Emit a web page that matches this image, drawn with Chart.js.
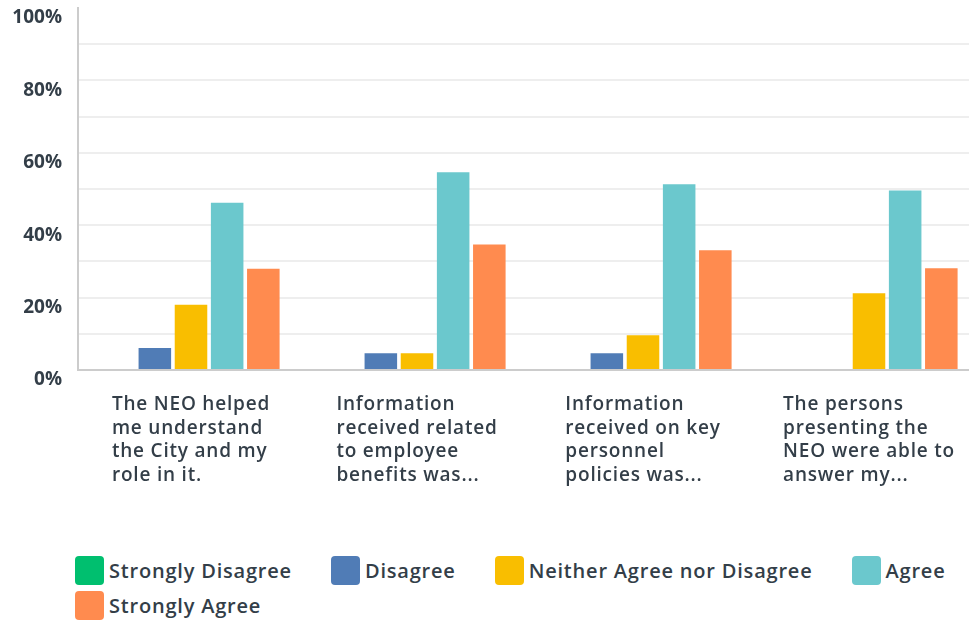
<!DOCTYPE html>
<html>
<head>
<meta charset="utf-8">
<script src="https://cdn.jsdelivr.net/npm/chart.js@4"></script>
<style>
    html, body {
        margin: 0;
        padding: 0;
        overflow: hidden;
        background: #fff;
        width: 969px;
        height: 620px;
    }
    .chart-wrap {
        position: absolute;
        left: 0;
        top: 0;
        width: 982px;
        height: 520px;
    }
    .legend {
        position: absolute;
        left: 75px;
        top: 556px;
        width: 894px;
        display: flex;
        flex-wrap: wrap;
        column-gap: 39px;
        row-gap: 6px;
        font-family: "Open Sans", sans-serif;
        font-weight: 600;
        font-size: 20px;
        letter-spacing: 0.8px;
        color: #333e48;
    }
    .legend-item {
        display: flex;
        align-items: center;
        height: 29px;
    }
    .legend-box {
        width: 29px;
        height: 29px;
        border-radius: 4px;
        margin-right: 5px;
    }
</style>
</head>
<body>
<div class="chart-wrap"><canvas id="myChart" width="982" height="520"></canvas></div>
<div class="legend"></div>

<script>
const categories = [
    ['The NEO helped', 'me understand', 'the City and my', 'role in it.'],
    ['Information', 'received related', 'to employee', 'benefits was...'],
    ['Information', 'received on key', 'personnel', 'policies was...'],
    ['The persons', 'presenting the', 'NEO were able to', 'answer my...']
]

const seriesNames = ['Strongly Disagree', 'Disagree', 'Neither Agree nor Disagree', 'Agree', 'Strongly Agree']
const seriesColors = ['#00bf6f', '#507cb6', '#f9be00', '#6bc8cd', '#ff8b4f']

const stronglyDisagree = [0, 0, 0, 0]
const disagree = [6.1, 4.6, 4.6, 0]
const neither = [18.0, 4.6, 9.6, 21.2]
const agree = [46.2, 54.6, 51.3, 49.6]
const stronglyAgree = [28.0, 34.7, 33.1, 28.1]

const yTicks = [0, 20, 40, 60, 80, 100]

const textColor = '#333e48'
const seriesValues = [stronglyDisagree, disagree, neither, agree, stronglyAgree]

// category labels: left-aligned lines, block centred under each group
const xLabels = {
    id: 'xLabels',
    afterDraw(chart) {
        const ctx = chart.ctx
        const xScale = chart.scales.x
        ctx.save()
        ctx.font = '600 19px "Open Sans"'
        ctx.letterSpacing = '0.8px'
        ctx.fillStyle = textColor
        ctx.textAlign = 'left'
        ctx.textBaseline = 'middle'
        chart.data.labels.forEach((lines, i) => {
            const center = xScale.getPixelForTick(i)
            const width = Math.max(...lines.map(line => ctx.measureText(line).width))
            lines.forEach((line, j) => {
                ctx.fillText(line, center - width / 2, chart.chartArea.bottom + 35 + j * 23.5)
            })
        })
        ctx.restore()
    }
}

renderChart()
renderLegend()

function renderChart() {
    const ctx = document.getElementById('myChart')

    new Chart(ctx, {
        type: 'bar',
        data: {
            labels: categories,
            datasets: seriesNames.map((name, i) => ({
                label: name,
                data: seriesValues[i],
                backgroundColor: seriesColors[i],
                borderWidth: 0
            }))
        },
        options: {
            responsive: false,
            animation: false,
            devicePixelRatio: 1,
            layout: { padding: { top: 8, left: 0, right: 0, bottom: 0 } },
            plugins: {
                legend: { display: false },
                tooltip: { enabled: false }
            },
            scales: {
                x: {
                    grid: { display: false },
                    border: { color: '#cccccc', width: 2 },
                    ticks: { display: false },
                    afterFit(scale) {
                        scale.height = 150
                    }
                },
                y: {
                    min: 0,
                    max: 100,
                    grid: {
                        drawTicks: false,
                        lineWidth: 2,
                        color: c => c.tick.value === 100 ? 'rgba(0,0,0,0)' : (c.tick.value === 0 ? '#cccccc' : '#eeeeee')
                    },
                    border: { color: '#cccccc', width: 2 },
                    ticks: {
                        stepSize: 10,
                        padding: 16,
                        labelOffset: 10,
                        color: textColor,
                        font: { family: 'Open Sans', size: 19, weight: 'bold' },
                        callback: value => yTicks.includes(value) ? value + '%' : ''
                    },
                    afterFit(scale) {
                        scale.width = 78
                        scale.paddingTop = 0
                        scale.paddingBottom = 0
                    }
                }
            }
        },
        plugins: [xLabels]
    })
}

function renderLegend() {
    const elLegend = document.querySelector('.legend')
    seriesNames.forEach((name, i) => {
        const elItem = document.createElement('div')
        elItem.className = 'legend-item'
        const elBox = document.createElement('span')
        elBox.className = 'legend-box'
        elBox.style.background = seriesColors[i]
        const elText = document.createElement('span')
        elText.innerText = name
        elItem.appendChild(elBox)
        elItem.appendChild(elText)
        elLegend.appendChild(elItem)
    })
}
</script>
</body>
</html>
